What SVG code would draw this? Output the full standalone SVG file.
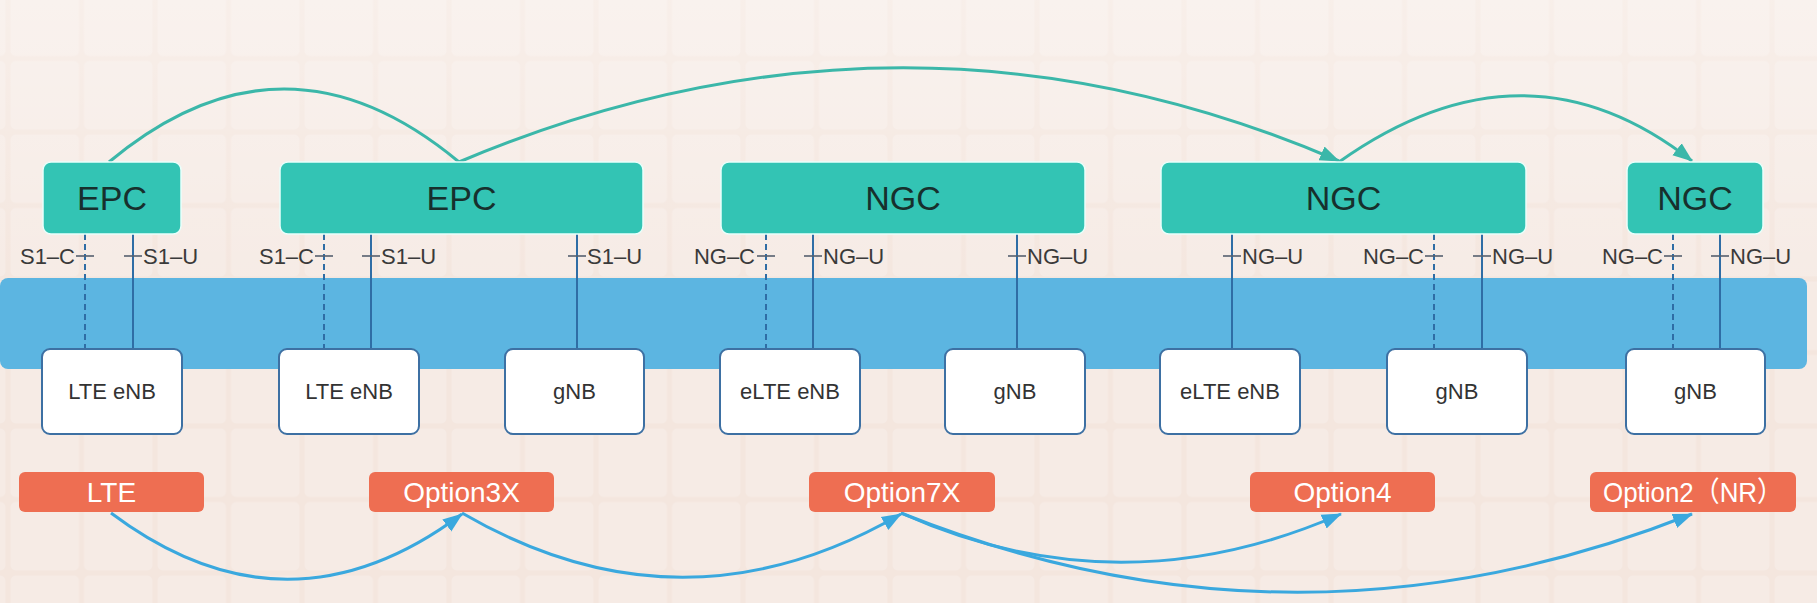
<svg xmlns="http://www.w3.org/2000/svg" width="1817" height="603" viewBox="0 0 1817 603">
<defs>
<style>
.core rect{fill:#33C4B4;stroke:#E9FFFB;stroke-width:1.5}
.core text{font-family:"Liberation Sans",Arial,sans-serif;font-size:34px;fill:#17302D;text-anchor:middle}
.ran rect{fill:#FFFFFF;stroke:#3D70A3;stroke-width:2}
.ran text{font-family:"Liberation Sans",Arial,sans-serif;font-size:22px;fill:#333333;text-anchor:middle}
.opt rect{fill:#EE6E52}
.opt text{font-family:"Liberation Sans","Noto Sans CJK SC",Arial,sans-serif;font-size:28px;fill:#FFFFFF;text-anchor:middle}
.if{stroke:#2F6DA5;stroke-width:2;fill:none}
.dash{stroke-dasharray:6 4}
.tick{stroke:#56606E;stroke-width:1.6}
.lbl{font-family:"Liberation Sans",Arial,sans-serif;font-size:22px;fill:#3A3A3A}
.lbl.l{text-anchor:end}
.teal{stroke:#3BB7A9;stroke-width:3;fill:none}
.blue{stroke:#3AA8DE;stroke-width:3;fill:none}
</style>
<pattern id="grid" x="8" y="-15" width="73.5" height="73.5" patternUnits="userSpaceOnUse">
<rect width="73.5" height="73.5" fill="#F4E6DE"/>
<rect x="2.5" y="2.5" width="68.5" height="68.5" rx="5" fill="#F6EBE5"/>
</pattern>
<linearGradient id="fade" x1="0" y1="0" x2="0" y2="1">
<stop offset="0" stop-color="#FFFFFF" stop-opacity="0.35"/>
<stop offset="1" stop-color="#FFFFFF" stop-opacity="0"/>
</linearGradient>
<marker id="ahTeal" markerUnits="userSpaceOnUse" markerWidth="22" markerHeight="18" refX="19" refY="9" orient="auto">
<path d="M0,1.5 L20,9 L0,16.5 z" fill="#3BB7A9"/>
</marker>
<marker id="ahBlue" markerUnits="userSpaceOnUse" markerWidth="22" markerHeight="18" refX="19" refY="9" orient="auto">
<path d="M0,1.5 L20,9 L0,16.5 z" fill="#3AA8DE"/>
</marker>
</defs>

<rect width="1817" height="603" fill="url(#grid)"/>
<rect width="1817" height="300" fill="url(#fade)"/>

<rect id="transport-band" x="0" y="278" width="1807" height="91" rx="8" fill="#5CB5E1"/>

<g id="connectors">
<!-- interface lines -->
<line class="if dash" x1="85" y1="234" x2="85" y2="349"/>
<line class="if" x1="133" y1="234" x2="133" y2="349"/>
<line class="if dash" x1="324" y1="234" x2="324" y2="349"/>
<line class="if" x1="371" y1="234" x2="371" y2="349"/>
<line class="if" x1="577" y1="234" x2="577" y2="349"/>
<line class="if dash" x1="766" y1="234" x2="766" y2="349"/>
<line class="if" x1="813" y1="234" x2="813" y2="349"/>
<line class="if" x1="1017" y1="234" x2="1017" y2="349"/>
<line class="if" x1="1232" y1="234" x2="1232" y2="349"/>
<line class="if dash" x1="1434" y1="234" x2="1434" y2="349"/>
<line class="if" x1="1482" y1="234" x2="1482" y2="349"/>
<line class="if dash" x1="1673" y1="234" x2="1673" y2="349"/>
<line class="if" x1="1720" y1="234" x2="1720" y2="349"/>
<!-- ticks -->
<g class="tick">
<line x1="76" y1="256" x2="94" y2="256"/>
<line x1="124" y1="256" x2="142" y2="256"/>
<line x1="315" y1="256" x2="333" y2="256"/>
<line x1="362" y1="256" x2="380" y2="256"/>
<line x1="568" y1="256" x2="586" y2="256"/>
<line x1="757" y1="256" x2="775" y2="256"/>
<line x1="804" y1="256" x2="822" y2="256"/>
<line x1="1008" y1="256" x2="1026" y2="256"/>
<line x1="1223" y1="256" x2="1241" y2="256"/>
<line x1="1425" y1="256" x2="1443" y2="256"/>
<line x1="1473" y1="256" x2="1491" y2="256"/>
<line x1="1664" y1="256" x2="1682" y2="256"/>
<line x1="1711" y1="256" x2="1729" y2="256"/>
</g>
<!-- interface labels -->
<text class="lbl l" x="75" y="264">S1–C</text>
<text class="lbl" x="143" y="264">S1–U</text>
<text class="lbl l" x="314" y="264">S1–C</text>
<text class="lbl" x="381" y="264">S1–U</text>
<text class="lbl" x="587" y="264">S1–U</text>
<text class="lbl l" x="755" y="264">NG–C</text>
<text class="lbl" x="823" y="264">NG–U</text>
<text class="lbl" x="1027" y="264">NG–U</text>
<text class="lbl" x="1242" y="264">NG–U</text>
<text class="lbl l" x="1424" y="264">NG–C</text>
<text class="lbl" x="1492" y="264">NG–U</text>
<text class="lbl l" x="1663" y="264">NG–C</text>
<text class="lbl" x="1730" y="264">NG–U</text>
<!-- core evolution arcs -->
<path class="teal" d="M109,162 Q284,16 459,162"/>
<path class="teal" d="M459,162 Q905,-26 1339,161" marker-end="url(#ahTeal)"/>
<path class="teal" d="M1339,162 Q1525,30 1692,161" marker-end="url(#ahTeal)"/>
<!-- option evolution arcs -->
<path class="blue" d="M111,513 Q287,645 462,514" marker-end="url(#ahBlue)"/>
<path class="blue" d="M462,513 Q682,641 901,514" marker-end="url(#ahBlue)"/>
<path class="blue" d="M901,513 Q1119,611 1341,514" marker-end="url(#ahBlue)"/>
<path class="blue" d="M901,513 Q1296,671 1692,514" marker-end="url(#ahBlue)"/>
</g>

<g id="epc-1" class="core"><rect x="43" y="162" width="138" height="72" rx="8"/><text x="112" y="210">EPC</text></g>
<g id="epc-2" class="core"><rect x="280" y="162" width="363" height="72" rx="8"/><text x="461.5" y="210">EPC</text></g>
<g id="ngc-1" class="core"><rect x="721" y="162" width="364" height="72" rx="8"/><text x="903" y="210">NGC</text></g>
<g id="ngc-2" class="core"><rect x="1161" y="162" width="365" height="72" rx="8"/><text x="1343.5" y="210">NGC</text></g>
<g id="ngc-3" class="core"><rect x="1627" y="162" width="136" height="72" rx="8"/><text x="1695" y="210">NGC</text></g>

<g id="lte-enb-1" class="ran"><rect x="42" y="349" width="140" height="85" rx="8"/><text x="112" y="399">LTE eNB</text></g>
<g id="lte-enb-2" class="ran"><rect x="279" y="349" width="140" height="85" rx="8"/><text x="349" y="399">LTE eNB</text></g>
<g id="gnb-1" class="ran"><rect x="505" y="349" width="139" height="85" rx="8"/><text x="574.5" y="399">gNB</text></g>
<g id="elte-enb-1" class="ran"><rect x="720" y="349" width="140" height="85" rx="8"/><text x="790" y="399">eLTE eNB</text></g>
<g id="gnb-2" class="ran"><rect x="945" y="349" width="140" height="85" rx="8"/><text x="1015" y="399">gNB</text></g>
<g id="elte-enb-2" class="ran"><rect x="1160" y="349" width="140" height="85" rx="8"/><text x="1230" y="399">eLTE eNB</text></g>
<g id="gnb-3" class="ran"><rect x="1387" y="349" width="140" height="85" rx="8"/><text x="1457" y="399">gNB</text></g>
<g id="gnb-4" class="ran"><rect x="1626" y="349" width="139" height="85" rx="8"/><text x="1695.5" y="399">gNB</text></g>

<g id="opt-lte" class="opt"><rect x="19" y="472" width="185" height="40" rx="6"/><text x="111.5" y="502">LTE</text></g>
<g id="opt-3x" class="opt"><rect x="369" y="472" width="185" height="40" rx="6"/><text x="461.5" y="502">Option3X</text></g>
<g id="opt-7x" class="opt"><rect x="809" y="472" width="186" height="40" rx="6"/><text x="902" y="502">Option7X</text></g>
<g id="opt-4" class="opt"><rect x="1250" y="472" width="185" height="40" rx="6"/><text x="1342.5" y="502">Option4</text></g>
<g id="opt-2" class="opt"><rect x="1590" y="472" width="206" height="40" rx="6"/><text x="1693" y="502" textLength="180" lengthAdjust="spacingAndGlyphs">Option2（NR）</text></g>
</svg>
